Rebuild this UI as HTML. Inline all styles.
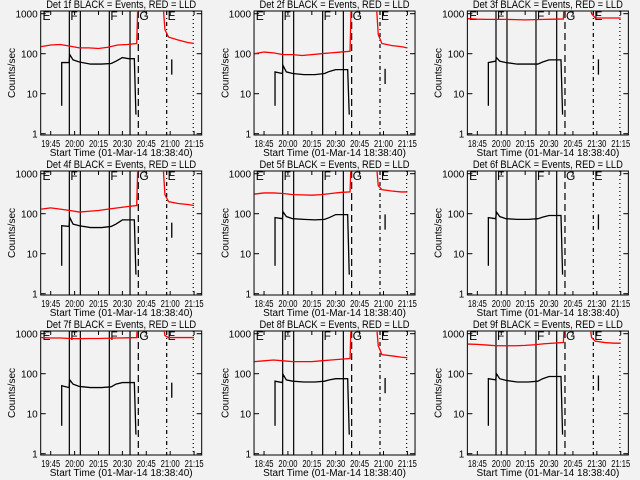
<!DOCTYPE html>
<html><head><meta charset="utf-8"><style>
html,body{margin:0;padding:0;background:#f2f2f2;}
svg{display:block;font-family:"Liberation Sans",sans-serif;}
</style></head><body>
<svg id="chart" width="640" height="480" viewBox="0 0 640 480"></svg>
<script>
const detNames = ["1f","2f","3f","4f","5f","6f","7f","8f","9f"];
const xTickLabelsCol = [
  ["19:45","20:00","20:15","20:30","20:45","21:00","21:15"],
  ["18:45","20:00","20:15","20:30","20:45","21:00","21:15"],
  ["18:45","20:00","20:15","20:30","20:45","21:30","21:15"]
];
const xTickTimes = [0,15,30,45,60,75,90];
const yTickValues = [1,10,100,1000];
const yTickLabels = ["1","10","100","1000"];
const blackT = [6.9,11.5,12,14,18,25,32,38,41,45,49,52.5];
const blackVals = [
  [60,60,95,70,62,55,55,57,65,80,75,75],
  [35,32,50,35,32,30,30,32,36,40,40,40],
  [60,65,80,65,60,55,55,55,62,70,70,70],
  [50,48,80,55,50,45,45,48,55,70,70,70],
  [80,75,110,85,75,72,70,72,80,95,95,95],
  [80,75,110,85,75,72,72,75,82,90,90,90],
  [50,45,70,55,48,45,45,47,55,60,60,60],
  [65,60,95,70,65,62,62,65,70,75,75,75],
  [75,70,100,75,68,62,62,65,75,85,85,85]
];
const redT = [-6,0,6,12,18,24,30,36,42,48,54];
const redPre = [
  [150,165,170,155,140,140,135,145,165,170,180],
  [100,110,105,95,95,90,95,100,105,110,115],
  [750,730,720,720,720,710,700,710,720,730,740],
  [130,140,130,120,110,115,120,130,140,150,160],
  [310,330,330,320,300,295,290,300,320,340,350],
  null,
  [800,780,780,760,750,760,760,770,780,790,800],
  [200,210,220,210,200,200,200,210,220,230,240],
  [550,540,520,500,500,500,510,530,560,580,600]
];
const redT2 = [70.4,71.7,74,80,86,90];
const redPost = [
  [2000,400,260,220,190,180],
  [2000,300,180,160,150,140],
  [2000,1000,780,780,780,780],
  [2000,300,200,180,170,160],
  [2000,500,400,370,350,350],
  null,
  [2000,900,800,800,800,800],
  [2000,500,300,280,260,250],
  [2000,800,650,600,580,580]
];
const lineTimes = [11.7,18.6,36.8,49.8,55,72.8,89.5];
const lineDash = ["","","","","7,4","4,3,1,3","1,3"];
const markerTimes = [-5.8,11.7,36.8,55,72.8];
const markerLabels = ["E","F","F","G","E"];

const NS="http://www.w3.org/2000/svg";
const svg=document.getElementById('chart');
function mk(tag,attrs,parent){const e=document.createElementNS(NS,tag);for(const k in attrs)e.setAttribute(k,attrs[k]);(parent||svg).appendChild(e);return e;}

for(let p=0;p<9;p++){
  const col=p%3,row=Math.floor(p/3);
  const ox=col*213.33, oy=row*160;
  const L=ox+40.7,R=ox+201.7,T=oy+11,B=oy+135;
  const xs=t=>ox+50.7+t*1.593;
  const ys=v=>oy+13.7+(3-Math.log10(v))*40;
  const g=mk('g',{});
  
  
  const cid='clip'+p;
  const cp=mk('clipPath',{id:cid},g);mk('rect',{x:L,y:T,width:R-L,height:B-T},cp);
  const frame=mk('rect',{x:L,y:T,width:R-L,height:B-T,fill:'none',stroke:'#000','stroke-width':1},g);
  
  
  const title=mk('text',{x:(L+R)/2,y:oy+8,'font-size':11,'text-anchor':'middle',fill:'#000',textLength:150,lengthAdjust:'spacingAndGlyphs'},g);
  title.textContent='Det '+detNames[p]+' BLACK = Events, RED = LLD';
  
  
  yTickValues.forEach((v,i)=>{
    const y=ys(v);
    mk('line',{x1:L,x2:L+5,y1:y,y2:y,stroke:'#000'},g);
    mk('line',{x1:R-5,x2:R,y1:y,y2:y,stroke:'#000'},g);
    const tl=mk('text',{x:L-3,y:y+4,'font-size':10,'text-anchor':'end'},g);
    tl.textContent=yTickLabels[i];
    
    
  });
  xTickTimes.forEach((t,i)=>{
    const x=xs(t);
    mk('line',{x1:x,x2:x,y1:B,y2:B-4,stroke:'#000'},g);
    mk('line',{x1:x,x2:x,y1:T,y2:T+4,stroke:'#000'},g);
    const tl=mk('text',{x:x,y:oy+147,'font-size':10,'text-anchor':'middle',textLength:19,lengthAdjust:'spacingAndGlyphs'},g);
    tl.textContent=xTickLabelsCol[col][i];
    
    
  });
  const yt=mk('text',{x:0,y:0,'font-size':10,'text-anchor':'middle',transform:`translate(${ox+15},${oy+73}) rotate(-90)`},g);
  yt.textContent='Counts/sec';
  
  
  const xt=mk('text',{x:(L+R)/2,y:oy+156,'font-size':10,'text-anchor':'middle'},g);
  xt.textContent='Start Time (01-Mar-14 18:38:40)';
  
  
  lineTimes.forEach((t,i)=>{
    const x=xs(t);
    const ln=mk('line',{x1:x,x2:x,y1:T,y2:B,stroke:'#000','stroke-width':1.2,'stroke-dasharray':lineDash[i]},g);
    
    
  });
  markerTimes.forEach((t,i)=>{
    const m=mk('text',{x:xs(t)+1,y:T+9,'font-size':12,fill:'#000'},g);
    m.textContent=markerLabels[i];
    
    
  });
  const cg=mk('g',{'clip-path':`url(#${cid})`},g);
  if(redPre[p]){
    let pts=redT.map((t,i)=>xs(t)+','+ys(redPre[p][i]));
    pts.push(xs(55)+','+ys(5000));
    const r1=mk('polyline',{points:pts.join(' '),fill:'none',stroke:'#ff0000','stroke-width':1.3},cg);
    
    
    const pts2=redT2.map((t,i)=>xs(t)+','+ys(redPost[p][i]));
    const r2=mk('polyline',{points:pts2.join(' '),fill:'none',stroke:'#ff0000','stroke-width':1.3},cg);
    
    
  }
  const bv=blackVals[p];
  let bp=[xs(blackT[0])+','+ys(5)];
  blackT.forEach((t,i)=>bp.push(xs(t)+','+ys(bv[i])));
  bp.push(xs(53.5)+','+ys(3));
  const b1=mk('polyline',{points:bp.join(' '),fill:'none',stroke:'#000','stroke-width':1.3},cg);
  
  
  const b2=mk('line',{x1:xs(76),x2:xs(76),y1:ys(bv[0]*0.5),y2:ys(bv[0]*1.2),stroke:'#000','stroke-width':1.3},cg);
  
  
}
</script>
</body></html>
